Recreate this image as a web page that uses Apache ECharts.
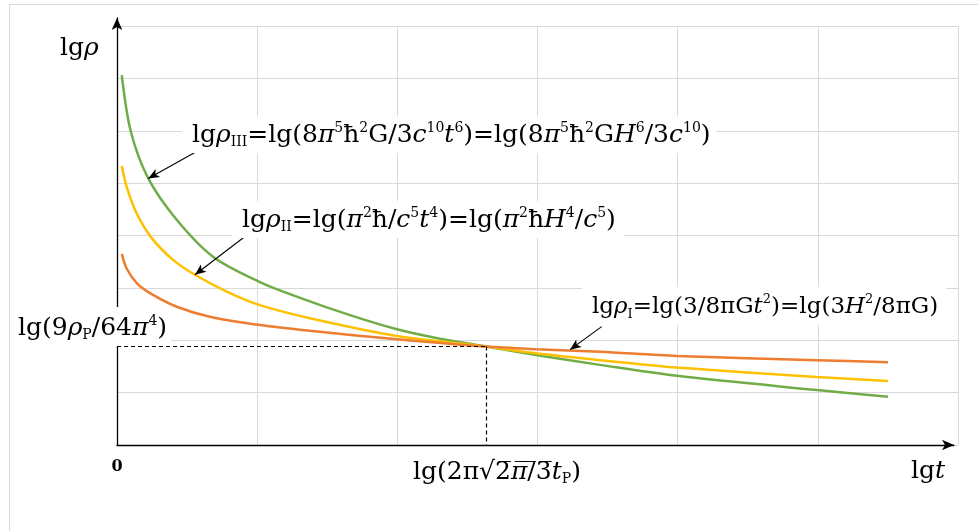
<!DOCTYPE html>
<html><head><meta charset="utf-8">
<script src="https://cdn.jsdelivr.net/npm/echarts@6/dist/echarts.min.js"></script>
<style>html,body{margin:0;padding:0;background:#fff}#c{width:978px;height:531px}</style>
</head><body><div id="c"></div>
<script>
// ---- data (axis units: x in grid columns, y in grid rows) ----
const xTickLabels = ['0'];
const greenX  = [0.034, 0.098, 0.223, 0.426, 0.687, 1.020, 1.306, 1.662, 1.998, 2.304, 2.633, 2.989, 3.446, 3.995, 4.994, 5.50];
const greenY  = [7.06, 5.99, 5.09, 4.30, 3.59, 3.11, 2.81, 2.48, 2.21, 2.03, 1.88, 1.72, 1.53, 1.32, 1.05, 0.92];
const yellowX = [0.034, 0.069, 0.141, 0.248, 0.402, 0.556, 0.783, 1.020, 1.377, 1.998, 2.633, 2.989, 3.446, 3.995, 4.994, 5.50];
const yellowY = [5.33, 4.93, 4.42, 3.95, 3.53, 3.25, 2.93, 2.67, 2.42, 2.08, 1.88, 1.75, 1.62, 1.48, 1.30, 1.22];
const orangeX = [0.034, 0.069, 0.141, 0.235, 0.426, 0.663, 1.020, 1.377, 1.998, 2.633, 2.989, 3.446, 3.995, 4.994, 5.50];
const orangeY = [3.65, 3.37, 3.09, 2.90, 2.64, 2.45, 2.29, 2.18, 2.02, 1.88, 1.83, 1.78, 1.70, 1.62, 1.58];
const crossX = 2.633, crossY = 1.88;
const arrowIII = [[0.571, 5.61], [0.223, 5.09]];
const arrowII  = [[0.913, 3.98], [0.556, 3.25]];
const arrowI   = [[3.458, 2.26], [3.232, 1.82]];

const F = 'DejaVu Serif';
const zip = (a, b) => a.map((v, i) => [v, b[i]]);
function makeRich(fs, ss) {
  return {
    n:   {fontFamily: F, fontSize: fs, lineHeight: 28, color: '#000'},
    i:   {fontFamily: F, fontSize: fs, lineHeight: 28, color: '#000', fontStyle: 'italic'},
    sup: {fontFamily: F, fontSize: ss, color: '#000', verticalAlign: 'top'},
    sub: {fontFamily: F, fontSize: ss, color: '#000', verticalAlign: 'bottom'}
  };
}
const richBig = makeRich(25, 14);
const richSmall = makeRich(23, 13);
function txt(text, x, y, pad, bg, rich) {
  rich = rich || richBig;
  return {
    type: 'text', z: 50, silent: true,
    style: {
      text: text, x: x, y: y, rich: rich, fontFamily: F, fontSize: rich.n.fontSize, lineHeight: 28,
      verticalAlign: 'top', align: 'left',
      backgroundColor: bg ? '#fff' : null, padding: pad || 0
    }
  };
}

const chart = echarts.init(document.getElementById('c'), null, {renderer: 'canvas'});
const gridColor = '#d9d9d9';
const arrowLine = (pts) => [{coord: pts[0]}, {coord: pts[1]}];
const curve = (name, xs, ys, color) => ({
  type: 'line', name: name, data: zip(xs, ys), smooth: 0.3, showSymbol: false,
  lineStyle: {color: color, width: 2.5}, z: 3
});

chart.setOption({
  animation: false,
  backgroundColor: '#fff',
  grid: [
    {left: 117, right: 20, top: 26, bottom: 86, containLabel: false},
    {left: 117, right: 24, top: 18, bottom: 86, containLabel: false}
  ],
  xAxis: [
    {gridIndex: 0, type: 'value', min: 0, max: 6, interval: 1,
      axisLine: {show: false}, axisTick: {show: false},
      splitLine: {show: true, lineStyle: {color: gridColor, width: 1}},
      axisLabel: {show: true, margin: 14, color: '#000', fontFamily: F, fontWeight: 'bold', fontSize: 16,
        formatter: v => v === 0 ? xTickLabels[0] : ''}},
    {gridIndex: 1, type: 'value', min: 0, max: 1,
      axisLine: {show: true, symbol: ['none', 'arrow'], symbolSize: [8, 12], lineStyle: {color: '#000', width: 1.3}},
      axisTick: {show: false}, axisLabel: {show: false}, splitLine: {show: false}}
  ],
  yAxis: [
    {gridIndex: 0, type: 'value', min: 0, max: 8, interval: 1,
      axisLine: {show: false}, axisTick: {show: false}, axisLabel: {show: false},
      splitLine: {show: true, lineStyle: {color: gridColor, width: 1}}},
    {gridIndex: 1, type: 'value', min: 0, max: 1,
      axisLine: {show: true, symbol: ['none', 'arrow'], symbolSize: [8, 12], lineStyle: {color: '#000', width: 1.3}},
      axisTick: {show: false}, axisLabel: {show: false}, splitLine: {show: false}}
  ],
  series: [
    curve('III', greenX, greenY, '#70AD47'),
    curve('II', yellowX, yellowY, '#FFC000'),
    curve('I', orangeX, orangeY, '#ED7D31'),
    {type: 'line', name: 'marks', data: [], z: 4,
      markLine: {
        silent: true, animation: false,
        label: {show: false},
        lineStyle: {color: '#000', width: 1.2, type: [4, 3]},
        symbol: ['none', 'none'],
        data: [
          [{coord: [0, crossY]}, {coord: [crossX, crossY]}],
          [{coord: [crossX, crossY]}, {coord: [crossX, 0]}]
        ]
      }},
    {type: 'line', name: 'arrows', data: [], z: 5,
      markLine: {
        silent: true, animation: false,
        label: {show: false},
        lineStyle: {color: '#000', width: 1.1, type: 'solid'},
        symbol: ['none', 'arrow'], symbolSize: [7, 11],
        data: [arrowLine(arrowIII), arrowLine(arrowII), arrowLine(arrowI)]
      }}
  ],
  graphic: [
    {type: 'rect', z: 0, silent: true, shape: {x: 9.5, y: 4.5, width: 1200, height: 800},
      style: {fill: 'none', stroke: '#d9d9d9', lineWidth: 1}},
    txt('{n|lg}{i|ρ}', 60, 34),
    txt('{n|lg}{i|ρ}{sub|III}{n|=lg(8}{i|π}{sup|5}{n|ħ}{sup|2}{n|G/3}{i|c}{sup|10}{i|t}{sup|6}{n|)=lg(8}{i|π}{sup|5}{n|ħ}{sup|2}{n|G}{i|H}{sup|6}{n|/3}{i|c}{sup|10}{n|)}',
      182, 116, [5, 6, 4, 10], true),
    txt('{n|lg}{i|ρ}{sub|II}{n|=lg(}{i|π}{sup|2}{n|ħ/}{i|c}{sup|5}{i|t}{sup|4}{n|)=lg(}{i|π}{sup|2}{n|ħ}{i|H}{sup|4}{n|/}{i|c}{sup|5}{n|)}',
      232, 201, [5, 8, 4, 10], true),
    txt('{n|lg}{i|ρ}{sub|I}{n|=lg(3/8πG}{i|t}{sup|2}{n|)=lg(3}{i|H}{sup|2}{n|/8πG)}',
      582, 287, [6, 8, 4, 10], true, richSmall),
    txt('{n|lg(9}{i|ρ}{sub|P}{n|/64}{i|π}{sup|4}{n|)}', 12, 307, [7, 4, 4, 6], true),
    txt('{n|lg(2π√2̅}{i|π̅}{n|/̅3̅}{i|t}{sub|P}{n|)}', 413, 458),
    txt('{n|lg}{i|t}', 911, 457)
  ]
});
</script></body></html>
